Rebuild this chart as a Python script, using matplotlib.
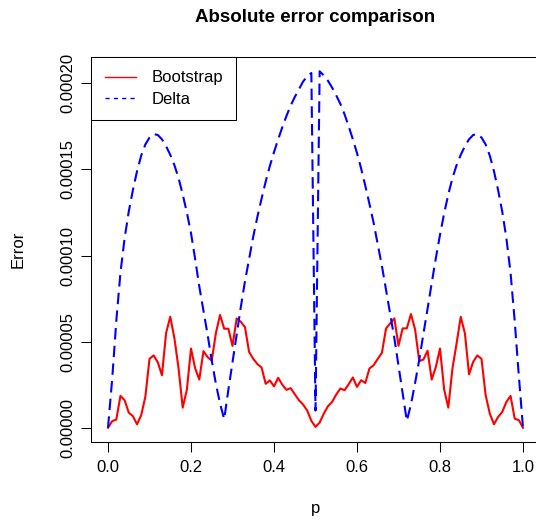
import matplotlib
matplotlib.use('Agg')
import matplotlib.pyplot as plt
import numpy as np

plt.rcParams['font.family'] = ['Liberation Sans', 'DejaVu Sans']
plt.rcParams['font.size'] = 12

# grid of p values (step 0.01)
p = np.linspace(0, 1, 101)

# absolute error of the bootstrap estimate
bootstrap = [
    0, 3.8e-6, 4.8e-6, 1.85e-5, 1.6e-5, 8.8e-6, 6.7e-6, 2.0e-6, 7.3e-6, 1.8e-5,
    4.0e-5, 4.2e-5, 3.8e-5, 3.05e-5, 5.5e-5, 6.45e-5, 5.2e-5, 3.45e-5, 1.17e-5, 2.2e-5,
    4.6e-5, 3.45e-5, 2.8e-5, 4.45e-5, 4.1e-5, 3.9e-5, 5.5e-5, 6.55e-5, 5.75e-5, 5.75e-5,
    4.75e-5, 6.35e-5, 6.15e-5, 5.85e-5, 4.4e-5, 4.0e-5, 3.7e-5, 3.5e-5, 2.55e-5, 2.75e-5,
    2.4e-5, 2.9e-5, 2.5e-5, 2.2e-5, 2.3e-5, 1.95e-5, 1.6e-5, 1.35e-5, 1.0e-5, 4.0e-6,
    5e-7, 3.0e-6, 8.2e-6, 1.25e-5, 1.5e-5, 1.93e-5, 2.28e-5, 2.18e-5, 2.53e-5, 2.92e-5,
    2.37e-5, 2.76e-5, 2.6e-5, 3.44e-5, 3.63e-5, 4.0e-5, 4.35e-5, 5.77e-5, 6.06e-5, 6.35e-5,
    4.76e-5, 5.77e-5, 5.77e-5, 6.6e-5, 5.7e-5, 3.87e-5, 3.96e-5, 4.47e-5, 2.8e-5, 3.53e-5,
    4.6e-5, 2.22e-5, 1.17e-5, 3.44e-5, 4.9e-5, 6.44e-5, 5.48e-5, 3.1e-5, 3.83e-5, 4.2e-5,
    4.0e-5, 1.89e-5, 8.2e-6, 2.0e-6, 6.3e-6, 9.2e-6, 1.5e-5, 1.85e-5, 5.3e-6, 4.4e-6,
    0,
]

# absolute error of the delta method
delta = [
    0, 2.8e-5, 6.2e-5, 9.0e-5, 1.10e-4, 1.255e-4, 1.38e-4, 1.49e-4, 1.58e-4, 1.645e-4,
    1.685e-4, 1.705e-4, 1.70e-4, 1.675e-4, 1.635e-4, 1.585e-4, 1.525e-4, 1.45e-4, 1.355e-4, 1.25e-4,
    1.13e-4, 9.8e-5, 8.2e-5, 6.8e-5, 5.4e-5, 3.9e-5, 2.55e-5, 1.4e-5, 5e-6, 2.2e-5,
    3.8e-5, 5.4e-5, 7.0e-5, 8.5e-5, 9.8e-5, 1.11e-4, 1.225e-4, 1.33e-4, 1.43e-4, 1.52e-4,
    1.60e-4, 1.675e-4, 1.745e-4, 1.81e-4, 1.87e-4, 1.92e-4, 1.965e-4, 2.01e-4, 2.04e-4, 2.06e-4,
    1.0e-5, 2.07e-4, 2.045e-4, 2.015e-4, 1.975e-4, 1.93e-4, 1.88e-4, 1.82e-4, 1.75e-4, 1.675e-4,
    1.595e-4, 1.505e-4, 1.405e-4, 1.30e-4, 1.19e-4, 1.065e-4, 9.4e-5, 8.0e-5, 6.6e-5, 5.2e-5,
    3.6e-5, 2.0e-5, 4e-6, 1.35e-5, 2.6e-5, 3.95e-5, 5.45e-5, 6.9e-5, 8.4e-5, 9.85e-5,
    1.12e-4, 1.245e-4, 1.355e-4, 1.45e-4, 1.525e-4, 1.585e-4, 1.635e-4, 1.675e-4, 1.70e-4, 1.705e-4,
    1.685e-4, 1.645e-4, 1.58e-4, 1.49e-4, 1.38e-4, 1.255e-4, 1.10e-4, 9.0e-5, 6.2e-5, 3.0e-5,
    0,
]

xticks = [0.0, 0.2, 0.4, 0.6, 0.8, 1.0]
yticks = [0.0, 0.00005, 0.00010, 0.00015, 0.00020]

fig = plt.figure(figsize=(5.36, 5.24), dpi=100)
# plot region like R (right edge falls just outside the picture)
ax = fig.add_axes([91.4 / 536, 82 / 524, 448.2 / 536, 385 / 524])

ax.plot(p, bootstrap, color='red', lw=1.5, label='Bootstrap')
ax.plot(p, delta, color='blue', lw=1.5, linestyle=(0, (5.5, 3)), label='Delta')

# R style 4% padding
allv = np.concatenate([bootstrap, delta])
lo, hi = allv.min(), allv.max()
ax.set_xlim(-0.04, 1.04)
ax.set_ylim(lo - 0.04 * (hi - lo), hi + 0.04 * (hi - lo))

ax.set_xticks(xticks)
ax.set_xticklabels(['%.1f' % v for v in xticks])
ax.set_yticks(yticks)
ax.set_yticklabels(['%.5f' % v for v in yticks], rotation=90, va='center')
ax.tick_params(axis='x', length=7, width=0.75, pad=6, labelsize=12)
ax.tick_params(axis='y', length=7, width=0.75, pad=4.5, labelsize=12)
for s in ax.spines.values():
    s.set_linewidth(0.75)
    s.set_color('black')

leg = ax.legend(loc='upper left', bbox_to_anchor=(0, 1), borderaxespad=0,
                fancybox=False, framealpha=1, edgecolor='black',
                handlelength=1.85, handletextpad=0.95, labelspacing=0.4,
                borderpad=0.8, fontsize=12)
leg.get_frame().set_linewidth(0.75)
for ln in leg.get_lines():
    ln.set_linewidth(1.0)
    ln.set_linestyle((0, (3, 3)) if ln.get_color() == 'blue' else '-')

cx = (91.4 + 448.2 / 2) / 536
fig.text(cx, 1 - 21.7 / 524, 'Absolute error comparison', ha='center',
         va='baseline', fontsize=13.5, fontweight='bold')
fig.text(cx, 1 - 508 / 524, 'p', ha='center', va='center', fontsize=12)
fig.text(18 / 536, 1 - 249.5 / 524, 'Error', ha='center', va='center',
         rotation=90, fontsize=12)

fig.savefig('out.png', dpi=100)
